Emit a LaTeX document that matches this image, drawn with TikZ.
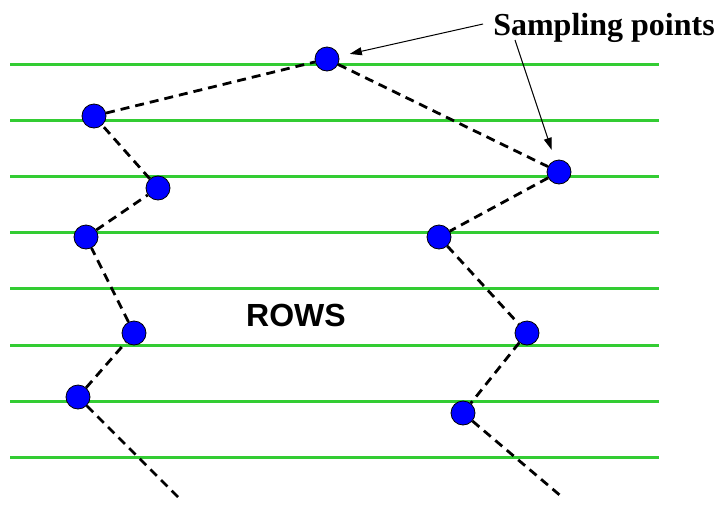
\documentclass[tikz,border=0pt]{standalone}
\usepackage{fontspec}
\setmainfont{Liberation Serif}
\newfontfamily\rowsfont{Liberation Sans}
\usetikzlibrary{arrows.meta}
\definecolor{rowgreen}{RGB}{51,204,51}
\tikzset{
  row/.style={draw=rowgreen, line width=3pt},
  sample/.style={circle, draw=black, line width=0.8pt, fill=blue, minimum size=24pt, inner sep=0pt},
  path link/.style={draw=black, line width=2.8pt, dash pattern=on 9pt off 6pt},
  pointer/.style={draw=black, line width=1pt, -{Triangle[length=12pt,width=8pt]}, shorten >=11pt}
}
\begin{document}
\begin{tikzpicture}[x=1pt, y=-1pt]
    \useasboundingbox (0, 0) rectangle (718, 504);

    % rows
    \draw[row] (10, 64) -- (659, 64);
    \draw[row] (10, 120) -- (659, 120);
    \draw[row] (10, 176) -- (659, 176);
    \draw[row] (10, 232) -- (659, 232);
    \draw[row] (10, 288) -- (659, 288);
    \draw[row] (10, 345) -- (659, 345);
    \draw[row] (10, 401) -- (659, 401);
    \draw[row] (10, 457) -- (659, 457);

    % sampling points
    \node[sample] (top) at (327, 59) {};
    \node[sample] (l2) at (94, 116) {};
    \node[sample] (l3) at (158, 188) {};
    \node[sample] (l4) at (86, 237) {};
    \node[sample] (l5) at (134, 333) {};
    \node[sample] (l6) at (78, 397) {};
    \node[sample] (r1) at (559, 172) {};
    \node[sample] (r2) at (439, 237) {};
    \node[sample] (r3) at (527, 333) {};
    \node[sample] (r4) at (463, 413) {};
    \coordinate (endL) at (178, 497);
    \coordinate (endR) at (562, 497);

    \draw[path link] (endL) -- (l6) -- (l5) -- (l4) -- (l3) -- (l2) -- (top)
      -- (r1) -- (r2) -- (r3) -- (r4) -- (endR);

    % labels
    \node[inner sep=0pt, anchor=base, font=\fontsize{32}{38}\selectfont\bfseries] (label) at (604, 35) {Sampling points};
    \node[inner sep=0pt, anchor=base west, font=\rowsfont\fontsize{32}{38}\selectfont\bfseries] (rows) at (246, 326) {ROWS};

    \coordinate (s1) at (483, 24);
    \coordinate (s2) at (515, 40);
    \draw[pointer] (s1) -- (top);
    \draw[pointer] (s2) -- (r1);
\end{tikzpicture}
\end{document}
